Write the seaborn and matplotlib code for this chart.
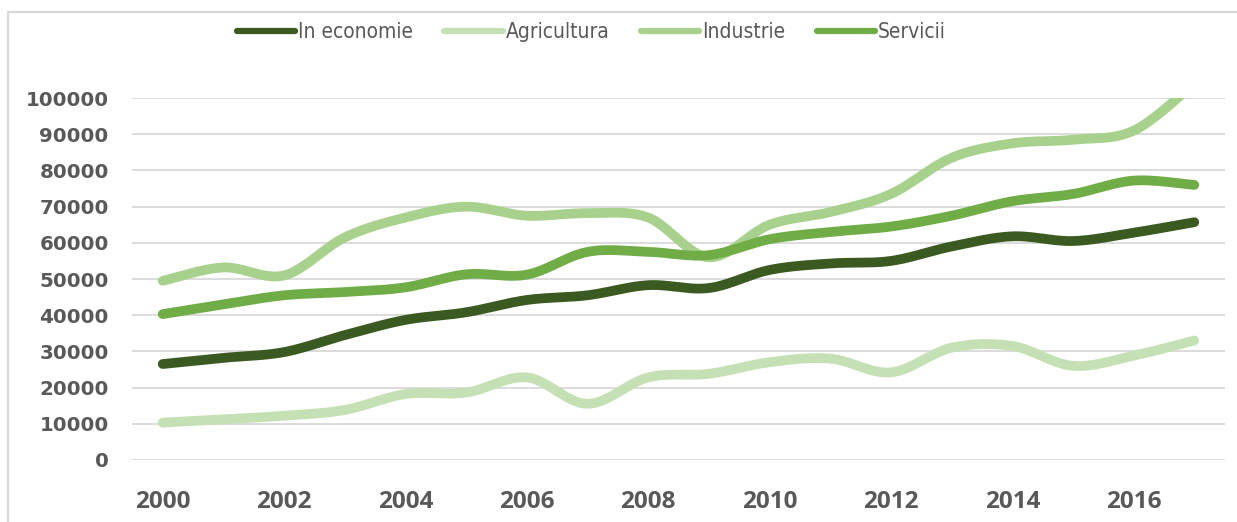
import numpy as np
import pandas as pd
import matplotlib
matplotlib.use('Agg')
import matplotlib.pyplot as plt
import seaborn as sns
from matplotlib.patches import Rectangle

# Date
ani = list(range(2000, 2018))
in_economie = [26500, 28200, 29800, 34500, 38700, 40800, 44200, 45500, 48300, 47500,
               52500, 54300, 55000, 59000, 61800, 60500, 62800, 65700]
agricultura = [10300, 11200, 12200, 13800, 18200, 18600, 22800, 15500, 22800, 23800,
               27000, 28000, 24200, 31000, 31500, 26000, 28800, 33000]
industrie = [49500, 53200, 51000, 61500, 67000, 70000, 67500, 68200, 67000, 56000,
             65000, 68500, 73500, 83500, 87500, 88500, 91000, 104000]
servicii = [40300, 43000, 45500, 46400, 47700, 51300, 51200, 57500, 57500, 56600,
            61000, 63000, 64500, 67500, 71500, 73500, 77200, 76000]

serii = ['In economie', 'Agricultura', 'Industrie', 'Servicii']
valori = [in_economie, agricultura, industrie, servicii]
culori = ['#3b5a22', '#c5e0b4', '#a9d18e', '#70ad47']


# Curba netezita ca in Excel (Bezier prin puncte), doar pentru desen
def netezire(x, y, pasi=24):
    x = np.asarray(x, float)
    y = np.asarray(y, float)
    px = np.concatenate([[x[0]], x, [x[-1]]])
    py = np.concatenate([[y[0]], y, [y[-1]]])
    xs, ys = [], []
    t = np.linspace(0, 1, pasi, endpoint=False)
    for i in range(1, len(px) - 2):
        p0, p1, p2, p3 = [np.array([px[j], py[j]]) for j in (i - 1, i, i + 1, i + 2)]
        c1 = p1 + (p2 - p0) / 6
        c2 = p2 - (p3 - p1) / 6
        for tt in t:
            b = ((1 - tt) ** 3) * p1 + 3 * ((1 - tt) ** 2) * tt * c1 + 3 * (1 - tt) * tt ** 2 * c2 + tt ** 3 * p2
            xs.append(b[0])
            ys.append(b[1])
    xs.append(x[-1])
    ys.append(y[-1])
    return xs, ys


rows = []
for nume, v in zip(serii, valori):
    xs, ys = netezire(ani, v)
    rows.append(pd.DataFrame({'An': xs, 'Valoare': ys, 'Serie': nume}))
df = pd.concat(rows, ignore_index=True)

sns.set_theme(style='white')
plt.rcParams['font.family'] = ['DejaVu Sans']

fig = plt.figure(figsize=(12.37, 5.22), dpi=100)
ax = fig.add_axes([0.107, 0.119, 0.883, 0.693])

sns.lineplot(data=df, x='An', y='Valoare', hue='Serie', hue_order=serii,
             palette=culori, linewidth=7, sort=False, estimator=None,
             legend=False, ax=ax)
for ln in ax.get_lines():
    ln.set_solid_capstyle('round')
    ln.set_solid_joinstyle('round')

ax.set_xlim(1999.5, 2017.5)
ax.set_ylim(0, 100000)
ax.set_yticks(range(0, 100001, 10000))
ax.set_xticks(range(2000, 2017, 2))
ax.set_xlabel('')
ax.set_ylabel('')
ax.grid(axis='y', color='#d9d9d9', linewidth=1.3)
ax.set_axisbelow(True)
for s in ax.spines.values():
    s.set_visible(False)
ax.tick_params(axis='both', length=0, colors='#595959')
ax.tick_params(axis='y', pad=17)
ax.tick_params(axis='x', pad=22)
for lbl in ax.get_yticklabels():
    lbl.set_fontfamily('DejaVu Sans')
    lbl.set_fontweight('bold')
    lbl.set_fontsize(14.3)
for lbl in ax.get_xticklabels():
    lbl.set_fontfamily('Open Sans')
    lbl.set_fontweight('bold')
    lbl.set_fontsize(17.5)

# Legenda
handles = [plt.Line2D([0], [0], color=c, linewidth=4.5, solid_capstyle='round') for c in culori]
leg = fig.legend(handles, serii, loc='center', bbox_to_anchor=(0.478, 0.938), ncol=4,
                 frameon=False, handlelength=2.8, handletextpad=0.15, columnspacing=1.5,
                 prop={'family': ['DejaVu Sans'], 'stretch': 'condensed', 'size': 15})
for t in leg.get_texts():
    t.set_color('#595959')

# Chenarul graficului
fig.patches.append(Rectangle((8 / 1237, -0.05), 1.1, 1 - 12 / 522 + 0.05,
                             transform=fig.transFigure, fill=False,
                             edgecolor='#d9d9d9', linewidth=1.6))

fig.savefig('out.png', dpi=100)
